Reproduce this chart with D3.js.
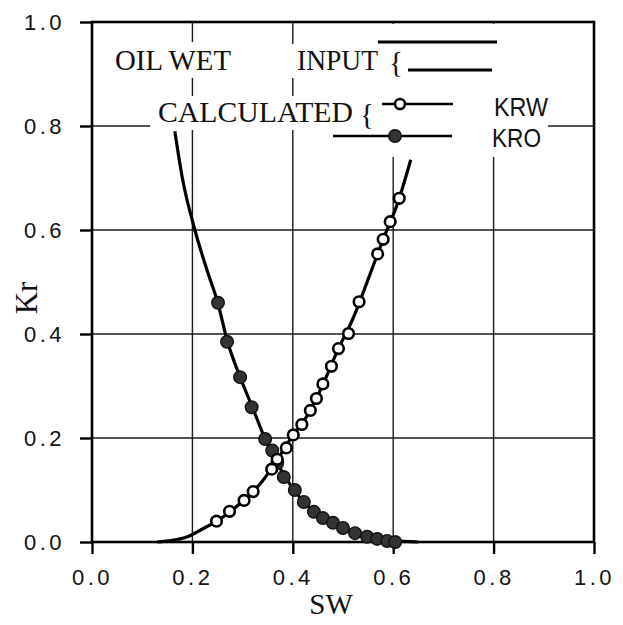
<!DOCTYPE html>
<html>
<head>
<meta charset="utf-8">
<script src="https://cdn.jsdelivr.net/npm/d3@7"></script>
<style>
  html, body { margin: 0; padding: 0; background: #fff; }
  svg { display: block; }
</style>
</head>
<body>
<svg id="chart" width="623" height="625"></svg>
<script>
// ---- data ----
const xTicks = [0.0, 0.2, 0.4, 0.6, 0.8, 1.0];
const yTicks = [0.0, 0.2, 0.4, 0.6, 0.8, 1.0];
const gridValues = [0.2, 0.4, 0.6, 0.8];

// input curves
const kroInputSw = [0.165, 0.18, 0.205, 0.23, 0.25, 0.27, 0.295, 0.32, 0.345, 0.37, 0.40, 0.44, 0.48, 0.52, 0.56, 0.60, 0.65];
const kroInputKr = [0.79, 0.70, 0.60, 0.52, 0.462, 0.385, 0.317, 0.258, 0.198, 0.150, 0.103, 0.060, 0.036, 0.018, 0.008, 0.002, 0.0];
const krwInputSw = [0.13, 0.16, 0.19, 0.22, 0.25, 0.28, 0.31, 0.34, 0.37, 0.40, 0.43, 0.46, 0.49, 0.52, 0.55, 0.58, 0.61, 0.635];
const krwInputKr = [0.0, 0.003, 0.010, 0.025, 0.041, 0.062, 0.087, 0.118, 0.160, 0.205, 0.245, 0.303, 0.370, 0.430, 0.505, 0.582, 0.655, 0.735];

// calculated points
const kroCalcSw = [0.251, 0.269, 0.295, 0.318, 0.345, 0.359, 0.369, 0.382, 0.404, 0.422, 0.442, 0.460, 0.480, 0.500, 0.524, 0.548, 0.568, 0.588, 0.604];
const kroCalcKr = [0.460, 0.385, 0.317, 0.259, 0.198, 0.176, 0.152, 0.125, 0.100, 0.077, 0.058, 0.046, 0.037, 0.027, 0.017, 0.010, 0.006, 0.002, 0.0];
const krwCalcSw = [0.248, 0.274, 0.303, 0.321, 0.358, 0.369, 0.387, 0.401, 0.418, 0.435, 0.447, 0.460, 0.477, 0.491, 0.511, 0.532, 0.569, 0.580, 0.594, 0.612];
const krwCalcKr = [0.040, 0.059, 0.080, 0.097, 0.140, 0.159, 0.181, 0.206, 0.226, 0.253, 0.276, 0.304, 0.338, 0.372, 0.401, 0.462, 0.554, 0.582, 0.616, 0.661];

const serif = "'Liberation Serif', 'Times New Roman', serif";
const sans = "'Liberation Sans', Arial, Helvetica, sans-serif";

const svg = d3.select("#chart");
const x = d3.scaleLinear().domain([0, 1]).range([92, 594]);
const y = d3.scaleLinear().domain([0, 1]).range([542, 22]);

// grid
const grid = svg.append("g").attr("stroke", "#1a1a1a").attr("stroke-width", 1.4);
grid.selectAll(".gv").data(gridValues).join("line")
  .attr("x1", d => x(d)).attr("x2", d => x(d))
  .attr("y1", y(1)).attr("y2", y(0));
grid.selectAll(".gh").data(gridValues).join("line")
  .attr("y1", d => y(d)).attr("y2", d => y(d))
  .attr("x1", x(0)).attr("x2", x(1));

// white boxes behind legend text (grid is interrupted there)
const boxes = [
  [108, 42, 132, 36],   // OIL WET
  [289, 44, 116, 34],   // INPUT {
  [150, 96, 230, 34],   // CALCULATED {
  [378, 24, 170, 133]   // legend symbols / labels
];
svg.append("g").selectAll("rect").data(boxes).join("rect")
  .attr("x", d => d[0]).attr("y", d => d[1]).attr("width", d => d[2]).attr("height", d => d[3])
  .attr("fill", "#fff");

// frame
svg.append("rect")
  .attr("x", x(0)).attr("y", y(1))
  .attr("width", x(1) - x(0)).attr("height", y(0) - y(1))
  .attr("fill", "none").attr("stroke", "#000").attr("stroke-width", 2.6);

// axes
const yAxis = d3.axisLeft(y).tickValues(yTicks).tickFormat(d3.format(".1f")).tickSize(12).tickPadding(15);
const xAxis = d3.axisBottom(x).tickValues(xTicks).tickFormat(d3.format(".1f")).tickSize(12).tickPadding(15);

const gy = svg.append("g").attr("transform", `translate(${x(0)},0)`).call(yAxis);
const gx = svg.append("g").attr("transform", `translate(0,${y(0)})`).call(xAxis);
[gx, gy].forEach(g => {
  g.select(".domain").remove();
  g.selectAll(".tick line").attr("stroke", "#000").attr("stroke-width", 2.4);
  g.selectAll(".tick text")
    .attr("fill", "#111")
    .style("font-family", sans)
    .style("font-size", "22px")
    .style("letter-spacing", "3.5px");
});

// axis titles
svg.append("text").text("SW")
  .attr("x", 331).attr("y", 614).attr("text-anchor", "middle")
  .style("font-family", serif).style("font-size", "29px").attr("fill", "#111");
svg.append("text").text("Kr")
  .attr("transform", "translate(37,298) rotate(-90)").attr("text-anchor", "middle")
  .style("font-family", serif).style("font-size", "31px").attr("fill", "#111");

// curves
const line = d3.line().x(d => x(d[0])).y(d => y(d[1])).curve(d3.curveMonotoneX);
const kroInput = kroInputSw.map((s, i) => [s, kroInputKr[i]]);
const krwInput = krwInputSw.map((s, i) => [s, krwInputKr[i]]);
svg.append("path").datum(kroInput).attr("d", line)
  .attr("fill", "none").attr("stroke", "#000").attr("stroke-width", 3.2);
svg.append("path").datum(krwInput).attr("d", line)
  .attr("fill", "none").attr("stroke", "#000").attr("stroke-width", 3.2);

// calculated points
const kroCalc = kroCalcSw.map((s, i) => [s, kroCalcKr[i]]);
const krwCalc = krwCalcSw.map((s, i) => [s, krwCalcKr[i]]);
svg.append("g").selectAll("circle").data(kroCalc).join("circle")
  .attr("cx", d => x(d[0])).attr("cy", d => y(d[1])).attr("r", 6.3)
  .attr("fill", "#333").attr("stroke", "#111").attr("stroke-width", 1.4);
svg.append("g").selectAll("circle").data(krwCalc).join("circle")
  .attr("cx", d => x(d[0])).attr("cy", d => y(d[1])).attr("r", 5.3)
  .attr("fill", "#fff").attr("stroke", "#000").attr("stroke-width", 2.6);

// legend
const leg = svg.append("g");
leg.append("text").text("OIL WET").attr("x", 115).attr("y", 70)
  .attr("textLength", 116).attr("lengthAdjust", "spacingAndGlyphs")
  .style("font-family", serif).style("font-size", "29px").attr("fill", "#111");
leg.append("text").text("INPUT").attr("x", 297).attr("y", 70)
  .attr("textLength", 81).attr("lengthAdjust", "spacingAndGlyphs")
  .style("font-family", serif).style("font-size", "29px").attr("fill", "#111");
leg.append("text").text("{").attr("x", 389).attr("y", 72)
  .style("font-family", serif).style("font-size", "29px").attr("fill", "#111");
leg.append("text").text("CALCULATED").attr("x", 158).attr("y", 122)
  .attr("textLength", 195).attr("lengthAdjust", "spacingAndGlyphs")
  .style("font-family", serif).style("font-size", "29px").attr("fill", "#111");
leg.append("text").text("{").attr("x", 360).attr("y", 124)
  .style("font-family", serif).style("font-size", "29px").attr("fill", "#111");

// input legend lines
leg.append("line").attr("x1", 378).attr("x2", 497).attr("y1", 42).attr("y2", 42)
  .attr("stroke", "#000").attr("stroke-width", 3);
leg.append("line").attr("x1", 408).attr("x2", 492).attr("y1", 70).attr("y2", 70)
  .attr("stroke", "#000").attr("stroke-width", 3);

// calculated legend symbols
leg.append("line").attr("x1", 382).attr("x2", 453).attr("y1", 104).attr("y2", 104)
  .attr("stroke", "#000").attr("stroke-width", 2.6);
leg.append("circle").attr("cx", 400).attr("cy", 104).attr("r", 5)
  .attr("fill", "#fff").attr("stroke", "#000").attr("stroke-width", 2.6);
leg.append("line").attr("x1", 333).attr("x2", 452).attr("y1", 136).attr("y2", 136)
  .attr("stroke", "#000").attr("stroke-width", 2.6);
leg.append("circle").attr("cx", 395).attr("cy", 136).attr("r", 6.3)
  .attr("fill", "#333").attr("stroke", "#111").attr("stroke-width", 1.4);

leg.append("text").text("KRW").attr("x", 494).attr("y", 116)
  .attr("textLength", 54).attr("lengthAdjust", "spacingAndGlyphs")
  .style("font-family", sans).style("font-size", "25px").attr("fill", "#111");
leg.append("text").text("KRO").attr("x", 492).attr("y", 147)
  .attr("textLength", 49).attr("lengthAdjust", "spacingAndGlyphs")
  .style("font-family", sans).style("font-size", "25px").attr("fill", "#111");
</script>
</body>
</html>
